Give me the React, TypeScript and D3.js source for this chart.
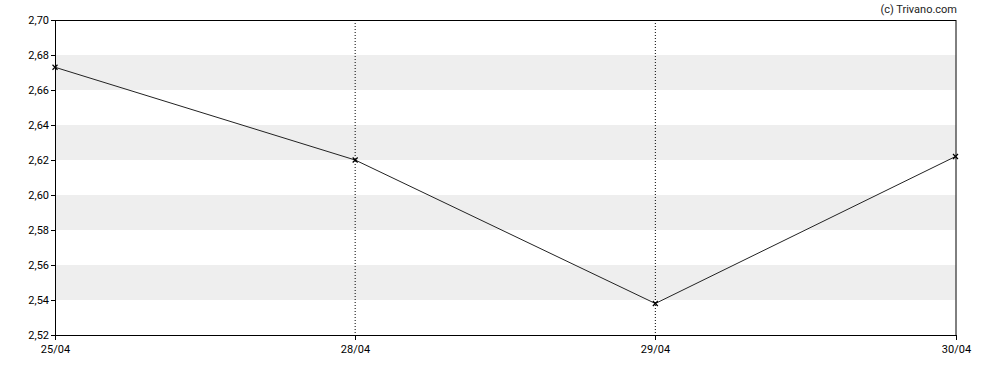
import * as d3 from "d3";
import React from "react";

const dates = ["25/04", "28/04", "29/04", "30/04"];
const prices = [2.673, 2.62, 2.538, 2.622];
const yTicks = [2.52, 2.54, 2.56, 2.58, 2.6, 2.62, 2.64, 2.66, 2.68, 2.7];
const bands = [[2.54, 2.56], [2.58, 2.6], [2.62, 2.64], [2.66, 2.68]];
const gridDates = ["28/04", "29/04"];

const W = 988;
const H = 370;
const margin = { top: 20, right: 32.5, bottom: 35, left: 55 };

const App = () => {
    const iw = W - margin.left - margin.right;
    const ih = H - margin.top - margin.bottom;

    const x = d3.scalePoint<string>().domain(dates).range([0, iw]);
    const y = d3.scaleLinear().domain([2.52, 2.7]).range([ih, 0]);

    const line = d3.line<number>()
        .x((d, i) => x(dates[i]) as number)
        .y((d) => y(d));

    const fmt = (v: number) => v.toFixed(2).replace(".", ",");
    const font = "Roboto, Arial, sans-serif";

    return (
        <svg width={W} height={H} style={{ position: "absolute", left: 0, top: 0 }}>
            <text x={957} y={13} textAnchor="end" fontSize={11} fontFamily={font} fill="#222">(c) Trivano.com</text>
            <g transform={`translate(${margin.left},${margin.top})`}>
                {bands.map(([a, b]) => (
                    <rect key={a} x={0} width={iw} y={y(b)} height={y(a) - y(b)} fill="#eeeeee" />
                ))}
                {gridDates.map((d) => (
                    <line key={d} x1={x(d)} x2={x(d)} y1={0} y2={ih} stroke="#000" strokeDasharray="1,2" />
                ))}
                <rect x={0.5} y={0.5} width={iw} height={ih} fill="none" stroke="#000" />
                {yTicks.map((t) => (
                    <g key={t} transform={`translate(0,${Math.round(y(t)) + 0.5})`}>
                        <line x1={-4} x2={0} stroke="#000" />
                        <text x={-6} dy="0.35em" textAnchor="end" fontSize={11} fontFamily={font} fill="#000">{fmt(t)}</text>
                    </g>
                ))}
                {dates.map((d) => (
                    <g key={d} transform={`translate(${Math.round(x(d) as number) + 0.5},${ih})`}>
                        <line y1={0} y2={5} stroke="#000" />
                        <text y={18} textAnchor="middle" fontSize={11} fontFamily={font} fill="#000">{d}</text>
                    </g>
                ))}
                <path d={line(prices) as string} fill="none" stroke="#222" strokeWidth={1} />
                {prices.map((p, i) => {
                    const cx = x(dates[i]) as number;
                    const cy = y(p);
                    return (
                        <path key={i} d={`M${cx - 2.5},${cy - 2.5}L${cx + 2.5},${cy + 2.5}M${cx - 2.5},${cy + 2.5}L${cx + 2.5},${cy - 2.5}`} stroke="#000" strokeWidth={1.2} />
                    );
                })}
            </g>
        </svg>
    );
};

export default App;
